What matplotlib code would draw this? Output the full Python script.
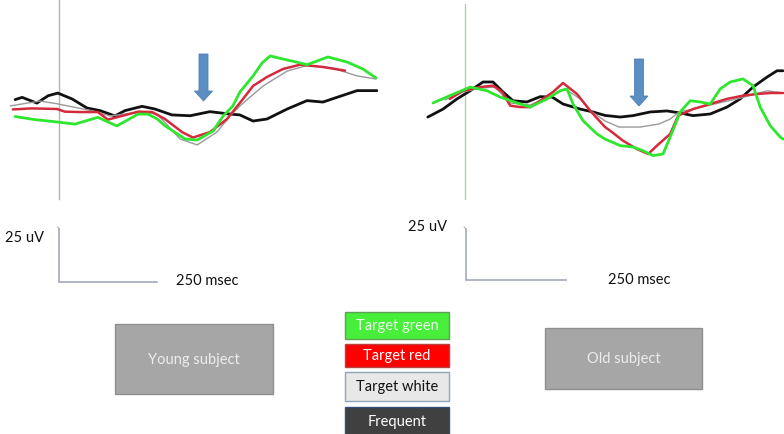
import matplotlib
matplotlib.use("Agg")
import matplotlib.pyplot as plt
from matplotlib.patches import Rectangle, FancyArrow

plt.rcParams['font.family'] = ['Lato', 'DejaVu Sans']

# ---------------- data (time in ms, amplitude in uV) ----------------
# Young subject
young_black_t = [-113, -95, -57, -28, -3, 34, 72, 106, 144, 170, 214, 247, 291, 338, 389, 441, 466, 500, 536, 588, 639, 680, 716, 768, 819]
young_black_v = [4.6, 5.7, 2.9, 6.5, 7.8, 4.9, 0.5, -0.8, -3.4, -0.8, 1.3, 0.0, -2.9, -3.3, -1.3, -2.5, -2.9, -5.9, -4.9, 0.0, 4.1, 3.4, 5.7, 9.0, 9.0]

young_green_t = [-113, -62, -3, 41, 100, 149, 204, 229, 253, 273, 325, 356, 397, 423, 448, 466, 500, 523, 544, 577, 616, 639, 693, 742, 783, 817]
young_green_v = [-3.7, -5.2, -6.4, -7.4, -4.1, -8.3, -2.5, -2.5, -4.9, -8.2, -14.7, -15.2, -10.8, -3.4, 1.5, 8.3, 16.2, 22.5, 26.0, 24.5, 22.8, 21.7, 25.5, 23.0, 19.6, 15.2]

young_red_t = [-119, -70, -5, 15, 54, 100, 126, 152, 204, 240, 273, 317, 345, 389, 433, 474, 500, 536, 577, 621, 680, 737]
young_red_v = [-0.2, 0.3, 0.0, -1.3, -1.5, -1.5, -5.2, -3.9, -1.3, -1.5, -4.9, -11.3, -14.0, -11.3, -4.9, 4.9, 11.3, 15.7, 19.6, 21.7, 20.6, 18.8]

young_white_t = [-126, -49, -3, 88, 131, 209, 253, 312, 356, 407, 441, 466, 526, 588, 639, 706, 768, 817]
young_white_v = [1.5, 3.9, 2.5, -1.0, -3.4, -1.5, -2.5, -14.7, -17.6, -11.3, -3.4, 1.5, 11.3, 18.6, 21.3, 20.0, 16.2, 14.7]

# Old subject
old_black_t = [-93, -55, -20, 13, 45, 70, 95, 120, 155, 188, 218, 245, 288, 320, 350, 388, 420, 463, 505, 538, 570, 613, 655, 688, 720, 755, 780, 795]
old_black_v = [-6.4, -2.5, 2.5, 6.5, 10.8, 10.8, 5.9, 1.6, 1.0, 3.6, 3.4, 0.0, -2.5, -3.9, -5.6, -6.4, -5.7, -3.9, -3.4, -4.4, -5.7, -4.9, -1.5, 2.5, 8.3, 13.2, 16.3, 16.3]

old_green_t = [-80, -38, 13, 55, 88, 138, 163, 205, 238, 255, 270, 295, 330, 350, 388, 420, 445, 470, 495, 513, 538, 563, 588, 613, 638, 663, 695, 720, 738, 763, 788, 795]
old_green_v = [0.5, 4.1, 8.3, 6.5, 3.4, 0.0, -1.5, 2.5, 6.5, 7.4, 0.0, -8.2, -14.7, -17.2, -20.4, -21.1, -22.9, -25.3, -24.5, -16.2, -3.9, 1.6, 1.0, 0.0, 7.4, 10.8, 12.3, 9.0, -1.5, -10.6, -16.2, -17.2]

old_red_t = [-38, -5, 38, 70, 93, 113, 138, 163, 195, 220, 245, 280, 313, 350, 363, 395, 430, 458, 480, 513, 533, 570, 613, 655, 695, 730, 763, 795]
old_red_v = [2.5, 6.5, 8.3, 9.0, 5.9, -0.8, -1.5, -1.5, 2.5, 5.9, 10.3, 4.9, -3.3, -11.3, -13.1, -18.0, -22.1, -24.5, -20.4, -14.7, -5.7, -2.5, 0.0, 2.5, 4.1, 4.9, 5.4, 5.4]

old_white_t = [-50, -5, 38, 75, 113, 163, 220, 250, 288, 318, 350, 385, 438, 485, 513, 535, 570, 613, 688, 755, 795]
old_white_v = [2.0, 5.9, 7.8, 8.3, 0.5, -0.5, 4.4, 7.4, 2.5, -3.9, -8.3, -11.3, -11.3, -9.8, -7.4, -3.9, -2.5, -0.5, 2.9, 6.5, 5.4]

legend_labels = ["Target green", "Target red", "Target white", "Frequent"]
subject_labels = ["Young subject", "Old subject"]
scale_labels = ["25 uV", "250 msec"]

# ---------------- figure ----------------
W, H = 784, 435
fig = plt.figure(figsize=(W / 100, H / 100), dpi=100)
fig.patch.set_facecolor("white")

ov = fig.add_axes([0, 0, 1, 1])
ov.set_xlim(0, W)
ov.set_ylim(H, 0)
ov.axis("off")

GREEN = "#2fe62f"
RED = "#d42a3c"
GREY = "#9a9a9a"
BLACK = "#111111"
FS = 10.5

def panel(rect, xlim, ylim, series):
    ax = fig.add_axes(rect)
    ax.set_xlim(*xlim)
    ax.set_ylim(*ylim)
    ax.axis("off")
    ax.patch.set_alpha(0)
    for t, v, c, lw in series:
        ax.plot(t, v, color=c, lw=lw, solid_joinstyle="round", solid_capstyle="round")
    return ax

ph = 220 / H
axL = panel([0, 1 - ph, 0.5, ph], (-152, 858), (-53.9, 53.9),
            [(young_black_t, young_black_v, BLACK, 2.0),
             (young_white_t, young_white_v, GREY, 1.0),
             (young_red_t, young_red_v, RED, 1.8),
             (young_green_t, young_green_v, GREEN, 2.0)])
axR = panel([0.5, 1 - ph, 0.5, ph], (-182.5, 797.5), (-56.4, 51.5),
            [(old_black_t, old_black_v, BLACK, 2.0),
             (old_white_t, old_white_v, GREY, 1.0),
             (old_red_t, old_red_v, RED, 1.8),
             (old_green_t, old_green_v, GREEN, 2.0)])

# stimulus onset lines
axL.axvline(0, ymin=(220 - 200) / 220, ymax=1, color="#a9baa9", lw=1.0, zorder=0)
axR.axvline(0, ymin=(220 - 200) / 220, ymax=(220 - 5) / 220, color="#9fd49f", lw=0.9, zorder=0)

# arrows
for xc, y0, y1 in [(203.5, 55, 102), (639, 60, 107)]:
    ov.add_patch(FancyArrow(xc, y0, 0, y1 - y0, width=9, head_width=18, head_length=10,
                            length_includes_head=True, facecolor="#5b8ec2",
                            edgecolor="#4f80b3", lw=0.6))

# scale bars
SB = "#9aa2b4"
for x0, yt, yb, x1 in [(59.5, 230, 283, 157), (466, 230, 281, 566)]:
    ov.plot([x0, x0, x1], [yt, yb, yb], color=SB, lw=1.1, solid_joinstyle="miter")
    ov.plot([x0 - 2, x0], [yt - 2, yt], color=SB, lw=0.6)

ov.text(5, 238, scale_labels[0], fontsize=FS, va="center", ha="left", color="#111111")
ov.text(176, 281, scale_labels[1], fontsize=FS, va="center", ha="left", color="#111111")
ov.text(408, 227, scale_labels[0], fontsize=FS, va="center", ha="left", color="#111111")
ov.text(608, 280, scale_labels[1], fontsize=FS, va="center", ha="left", color="#111111")

# subject boxes
for (x0, y0, x1, y1), lab in zip([(115, 325, 273, 395), (545, 329, 702, 390)], subject_labels):
    ov.add_patch(Rectangle((x0, y0), x1 - x0, y1 - y0, facecolor="#a6a6a6",
                           edgecolor="#8f8f8f", lw=1.0))
    ov.text((x0 + x1) / 2, (y0 + y1) / 2, lab, fontsize=FS, color="#ececec",
            ha="center", va="center")

# legend boxes
leg_rows = [(313, 340), (345, 368), (373, 402), (408, 436)]
leg_fc = ["#47ee3a", "#ff0000", "#e8e8e8", "#404040"]
leg_ec = ["#5e9e55", "#b84040", "#8fa5bf", "#34507a"]
leg_tc = ["#eaffea", "#ffffff", "#111111", "#ffffff"]
for (y0, y1), lab, fc, ec, tc in zip(leg_rows, legend_labels, leg_fc, leg_ec, leg_tc):
    ov.add_patch(Rectangle((345, y0), 104, y1 - y0, facecolor=fc, edgecolor=ec, lw=1.0))
    ov.text(397, (y0 + y1) / 2, lab, fontsize=FS, color=tc, ha="center", va="center")

fig.savefig("out.png", dpi=100, facecolor="white")
